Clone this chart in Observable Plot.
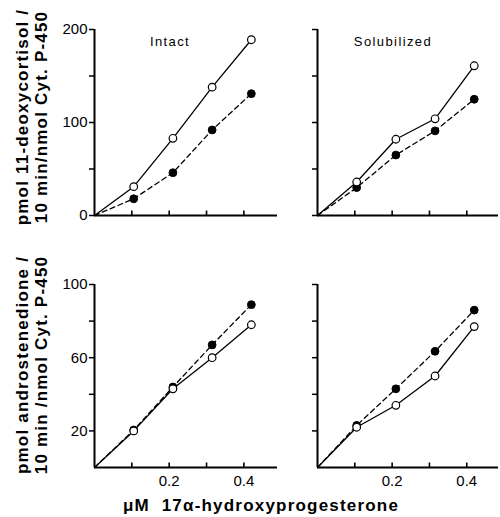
<!DOCTYPE html>
<html>
<head>
<meta charset="utf-8">
<script src="https://cdn.jsdelivr.net/npm/d3@7"></script>
<script src="https://cdn.jsdelivr.net/npm/@observablehq/plot@0.6"></script>
<style>
  html, body { margin: 0; padding: 0; background: #fff; }
  #chart { position: relative; width: 500px; height: 517px; background: #fff; font-family: "Liberation Sans", Arial, sans-serif; color: #000; overflow: hidden; }
  .panel { position: absolute; }
  .ylab { position: absolute; width: 240px; height: 38px; line-height: 19px; text-align: center; transform: rotate(-90deg); font-weight: bold; font-size: 17px; letter-spacing: 1.2px; white-space: nowrap; }
  .title { position: absolute; font-size: 13px; letter-spacing: 1.4px; white-space: nowrap; transform: translate(-50%, -50%); }
  .xlab { position: absolute; font-weight: bold; font-size: 17px; letter-spacing: 1.2px; white-space: nowrap; transform: translate(-50%, -50%); }
</style>
</head>
<body>
<div id="chart"></div>
<script>
// ---- data ----
const dose = [0.105, 0.21, 0.315, 0.42];            // µM 17α-hydroxyprogesterone
const intactDeoxyOpen   = [31, 83, 138, 189];
const intactDeoxyFilled = [18, 46, 92, 131];
const solDeoxyOpen      = [36, 82, 104, 161];
const solDeoxyFilled    = [30, 65, 91, 125];
const intactAndroOpen   = [20, 43, 60, 78];
const intactAndroFilled = [20.5, 44, 67, 89];
const solAndroOpen      = [22, 34, 50, 77];
const solAndroFilled    = [23, 43, 63.5, 86];

const xTicks = [0.1, 0.2, 0.3, 0.4];
const xTickLabels = ["", "0.2", "", "0.4"];
const topYTicks = [0, 50, 100, 150, 200];
const topYTickLabels = ["0", "", "100", "", "200"];
const botYTicks = [20, 40, 60, 80, 100];
const botYTickLabels = ["20", "", "60", "", "100"];
const panelTitles = ["Intact", "Solubilized"];
const yTitleTop = ["pmol 11-deoxycortisol /", "10 min/nmol Cyt. P-450"];
const yTitleBottom = ["pmol androstenedione /", "10 min /nmol Cyt. P-450"];
const xTitle = "\u03BCM\u00A0\u00A017\u03B1-hydroxyprogesterone";

// ---- helpers ----
const withOrigin = (vals) => [{x: 0, y: 0}, ...vals.map((v, i) => ({x: dose[i], y: v}))];
const points = (vals) => vals.map((v, i) => ({x: dose[i], y: v}));
const X_TICK_PX = 5;

function panel({open, filled, yDomain, yTicks, yLabels, showYLabels, showXLabels, xMax,
                marginLeft, marginRight, marginTop, marginBottom, plotW, plotH}) {
  // inward x-axis tick length, expressed in this panel's y units
  const tickLen = X_TICK_PX * (yDomain[1] - yDomain[0]) / plotH;
  const tickData = xTicks.map((t) => ({x: t, y1: yDomain[0], y2: yDomain[0] + tickLen}));
  const marks = [
    Plot.axisY(yTicks, {tickSize: 5, tickPadding: 2, strokeWidth: 1.5, label: null,
      tickFormat: (d) => showYLabels ? yLabels[yTicks.indexOf(d)] : "",
      fontSize: 15}),
    Plot.ruleY([0], {stroke: "black", strokeWidth: 2}),
    Plot.ruleX([0], {stroke: "black", strokeWidth: 2}),
    Plot.link(tickData, {x1: "x", x2: "x", y1: "y1", y2: "y2", stroke: "black", strokeWidth: 1.6}),
    Plot.line(withOrigin(filled), {x: "x", y: "y", stroke: "black", strokeWidth: 1.3, strokeDasharray: "5,3.5"}),
    Plot.line(withOrigin(open), {x: "x", y: "y", stroke: "black", strokeWidth: 1.3}),
    Plot.dot(points(filled), {x: "x", y: "y", r: 3.9, fill: "black", stroke: "black", strokeWidth: 1}),
    Plot.dot(points(open), {x: "x", y: "y", r: 3.8, fill: "white", stroke: "black", strokeWidth: 1.2})
  ];
  if (showXLabels) {
    marks.push(Plot.axisX(xTicks, {tickSize: 0, tickPadding: 8, label: null, fontSize: 15,
      tickFormat: (d) => xTickLabels[xTicks.indexOf(d)]}));
  } else {
    marks.push(Plot.axisX(xTicks, {tickSize: 0, label: null, tickFormat: () => ""}));
  }
  return Plot.plot({
    width: marginLeft + plotW + marginRight,
    height: marginTop + plotH + marginBottom,
    marginLeft, marginRight, marginTop, marginBottom,
    x: {domain: [0, xMax], label: null},
    y: {domain: yDomain, label: null},
    style: {background: "white", fontFamily: "Liberation Sans, Arial, sans-serif", fontSize: "15px", color: "black", overflow: "visible"},
    marks
  });
}

const chart = document.getElementById("chart");
function place(el, left, top) {
  el.classList.add("panel");
  el.style.left = left + "px";
  el.style.top = top + "px";
  chart.appendChild(el);
}

const leftOpts = {marginLeft: 94, marginRight: 3, plotW: 183, xMax: 0.49, showYLabels: true};
const rightOpts = {marginLeft: 30, marginRight: 2, plotW: 181, xMax: 0.485, showYLabels: false};
const topOpts = {yDomain: [0, 200], yTicks: topYTicks, yLabels: topYTickLabels, marginTop: 29, marginBottom: 12, plotH: 186, showXLabels: false};
const botOpts = {yDomain: [0, 100], yTicks: botYTicks, yLabels: botYTickLabels, marginTop: 34, marginBottom: 30, plotH: 183, showXLabels: true};

place(panel({...leftOpts, ...topOpts, open: intactDeoxyOpen, filled: intactDeoxyFilled}), 0, 0);
place(panel({...rightOpts, ...topOpts, open: solDeoxyOpen, filled: solDeoxyFilled}), 287, 0);
place(panel({...leftOpts, ...botOpts, open: intactAndroOpen, filled: intactAndroFilled}), 0, 250);
place(panel({...rightOpts, ...botOpts, open: solAndroOpen, filled: solAndroFilled}), 287, 250);

function addDiv(cls, html, styles) {
  const d = document.createElement("div");
  d.className = cls;
  d.innerHTML = html;
  Object.assign(d.style, styles);
  chart.appendChild(d);
  return d;
}
addDiv("title", panelTitles[0], {left: "170px", top: "41px"});
addDiv("title", panelTitles[1], {left: "393px", top: "41px"});
addDiv("ylab", yTitleTop.join("<br>"), {left: (31.5 - 120) + "px", top: (117 - 19) + "px"});
addDiv("ylab", yTitleBottom.join("<br>"), {left: (31.5 - 120) + "px", top: (365 - 19) + "px"});
addDiv("xlab", xTitle, {left: "261px", top: "506px"});
</script>
</body>
</html>
